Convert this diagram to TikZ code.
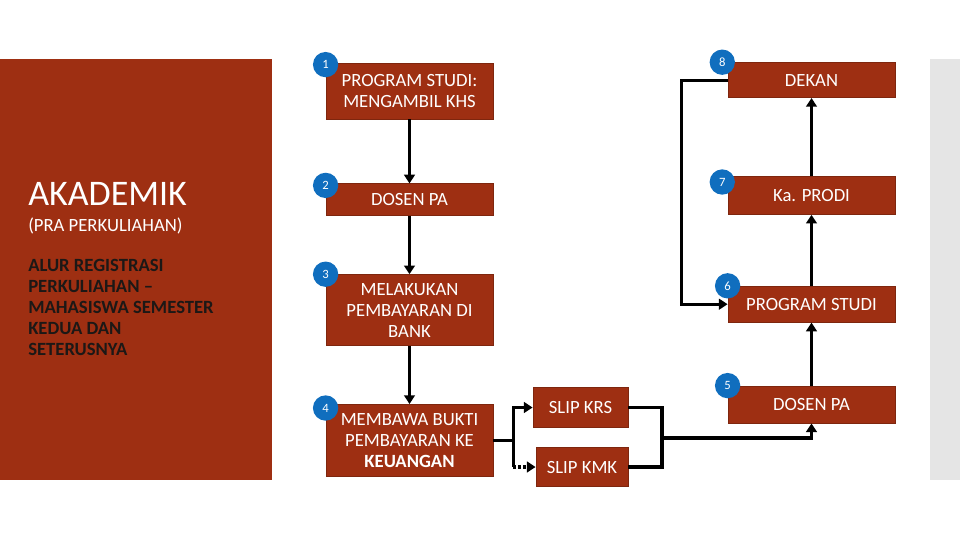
\documentclass[tikz,border=0pt]{standalone}
\usepackage{fontspec}
\setmainfont{Carlito}
\usepackage{tikz}
\usetikzlibrary{arrows.meta, positioning}

\definecolor{boxred}{RGB}{158,47,18}
\definecolor{numblue}{RGB}{16,110,190}
\definecolor{bargray}{RGB}{229,229,229}
\definecolor{bodyink}{RGB}{28,24,22}

\begin{document}
\begin{tikzpicture}[
    x=0.75pt, y=-0.75pt,
    every node/.style={font=\fontsize{14}{15.75}\selectfont},
    stepbox/.style={rectangle, fill=boxred, draw=boxred!80!black, line width=0.6pt, text=white, minimum width=125.25pt, inner sep=2pt, align=center},
    slip/.style={stepbox, minimum height=29.5pt},
    num/.style={circle, fill=numblue, text=white, minimum size=19pt, inner sep=0pt, font=\fontsize{9.5}{9.5}\selectfont},
    link/.style={line width=2.4pt},
    flow/.style={-{Triangle[length=6.5pt, width=8pt]}, line width=2.4pt}
]
\useasboundingbox (0,0) rectangle (960,540);

% side panels
\fill[boxred] (0,59) rectangle (272,480);
\fill[bargray] (930,59) rectangle (960,480);

\node[anchor=base west, text=white, inner sep=0pt, font=\fontsize{27}{27}\selectfont] (title) at (28,205) {AKADEMIK};
\node[anchor=base west, text=white, inner sep=0pt] (subtitle) at (28,231) {(PRA PERKULIAHAN)};
\node[anchor=north west, text=bodyink, inner sep=0pt, align=left, font=\fontsize{14}{15.75}\selectfont\bfseries] (desc) at (28,259)
  {ALUR REGISTRASI\\ PERKULIAHAN --\\ MAHASISWA SEMESTER\\ KEDUA DAN\\ SETERUSNYA};

% left column
\node[stepbox, minimum height=42pt] (khs) at (409.5,91) {PROGRAM STUDI:\\ MENGAMBIL KHS};
\node[stepbox, minimum height=24pt, below=48pt of khs] (pa) {DOSEN PA};
\node[stepbox, minimum height=53.25pt, below=43.5pt of pa] (bank) {MELAKUKAN\\ PEMBAYARAN DI\\ BANK};
\node[stepbox, minimum height=54pt, below=43.5pt of bank] (bukti) {MEMBAWA BUKTI\\ PEMBAYARAN KE\\ \textbf{KEUANGAN}};

\node[slip, minimum width=71.25pt] (krs) at (580.5,407.5) {SLIP KRS};
\node[slip, minimum width=69pt] (kmk) at (582,467) {SLIP KMK};

% right column
\node[stepbox, minimum height=27.75pt] (dosen) at (811.5,404.5) {DOSEN PA};
\node[stepbox, minimum height=27pt, above=47.25pt of dosen] (prodi) {PROGRAM STUDI};
\node[stepbox, minimum height=28.5pt, above=53.25pt of prodi] (kaprodi) {Ka. PRODI};
\node[stepbox, minimum height=26.25pt, above=58.5pt of kaprodi] (dekan) {DEKAN};

% step numbers
\node[num, yshift=-1.5pt] (n1) at (khs.north west) {1};
\node[num, yshift=-1.5pt] (n2) at (pa.north west) {2};
\node[num] (n3) at (bank.north west) {3};
\node[num, yshift=-3pt] (n4) at (bukti.north west) {4};
\node[num] (n5) at (dosen.north west) {5};
\node[num] (n6) at (prodi.north west) {6};
\node[num, xshift=-4pt, yshift=-4.5pt] (n7) at (kaprodi.north west) {7};
\node[num, xshift=-4pt] (n8) at (dekan.north west) {8};

\coordinate[right=15pt of bukti.east] (split);
\coordinate (join) at (662,438);

\draw[flow] (khs) -- (pa);
\draw[flow] (pa) -- (bank);
\draw[flow] (bank) -- (bukti);

\draw[link] (bukti.east) -- (split);
\draw[flow] (split) |- (krs.west);
\draw[link] (split) -- (split |- kmk.west);
\draw[flow, dash pattern=on 2.2pt off 1.5pt] (split |- kmk.west) -- (kmk.west);

\draw[link] (krs.east) -| (join) |- (kmk.east);
\draw[flow] (join) -| (dosen.south);

\draw[flow] (dosen) -- (prodi);
\draw[flow] (prodi) -- (kaprodi);
\draw[flow] (kaprodi) -- (dekan);
\draw[flow] (dekan.west) -- ++(-46,0) |- (prodi.west);

\end{tikzpicture}
\end{document}
